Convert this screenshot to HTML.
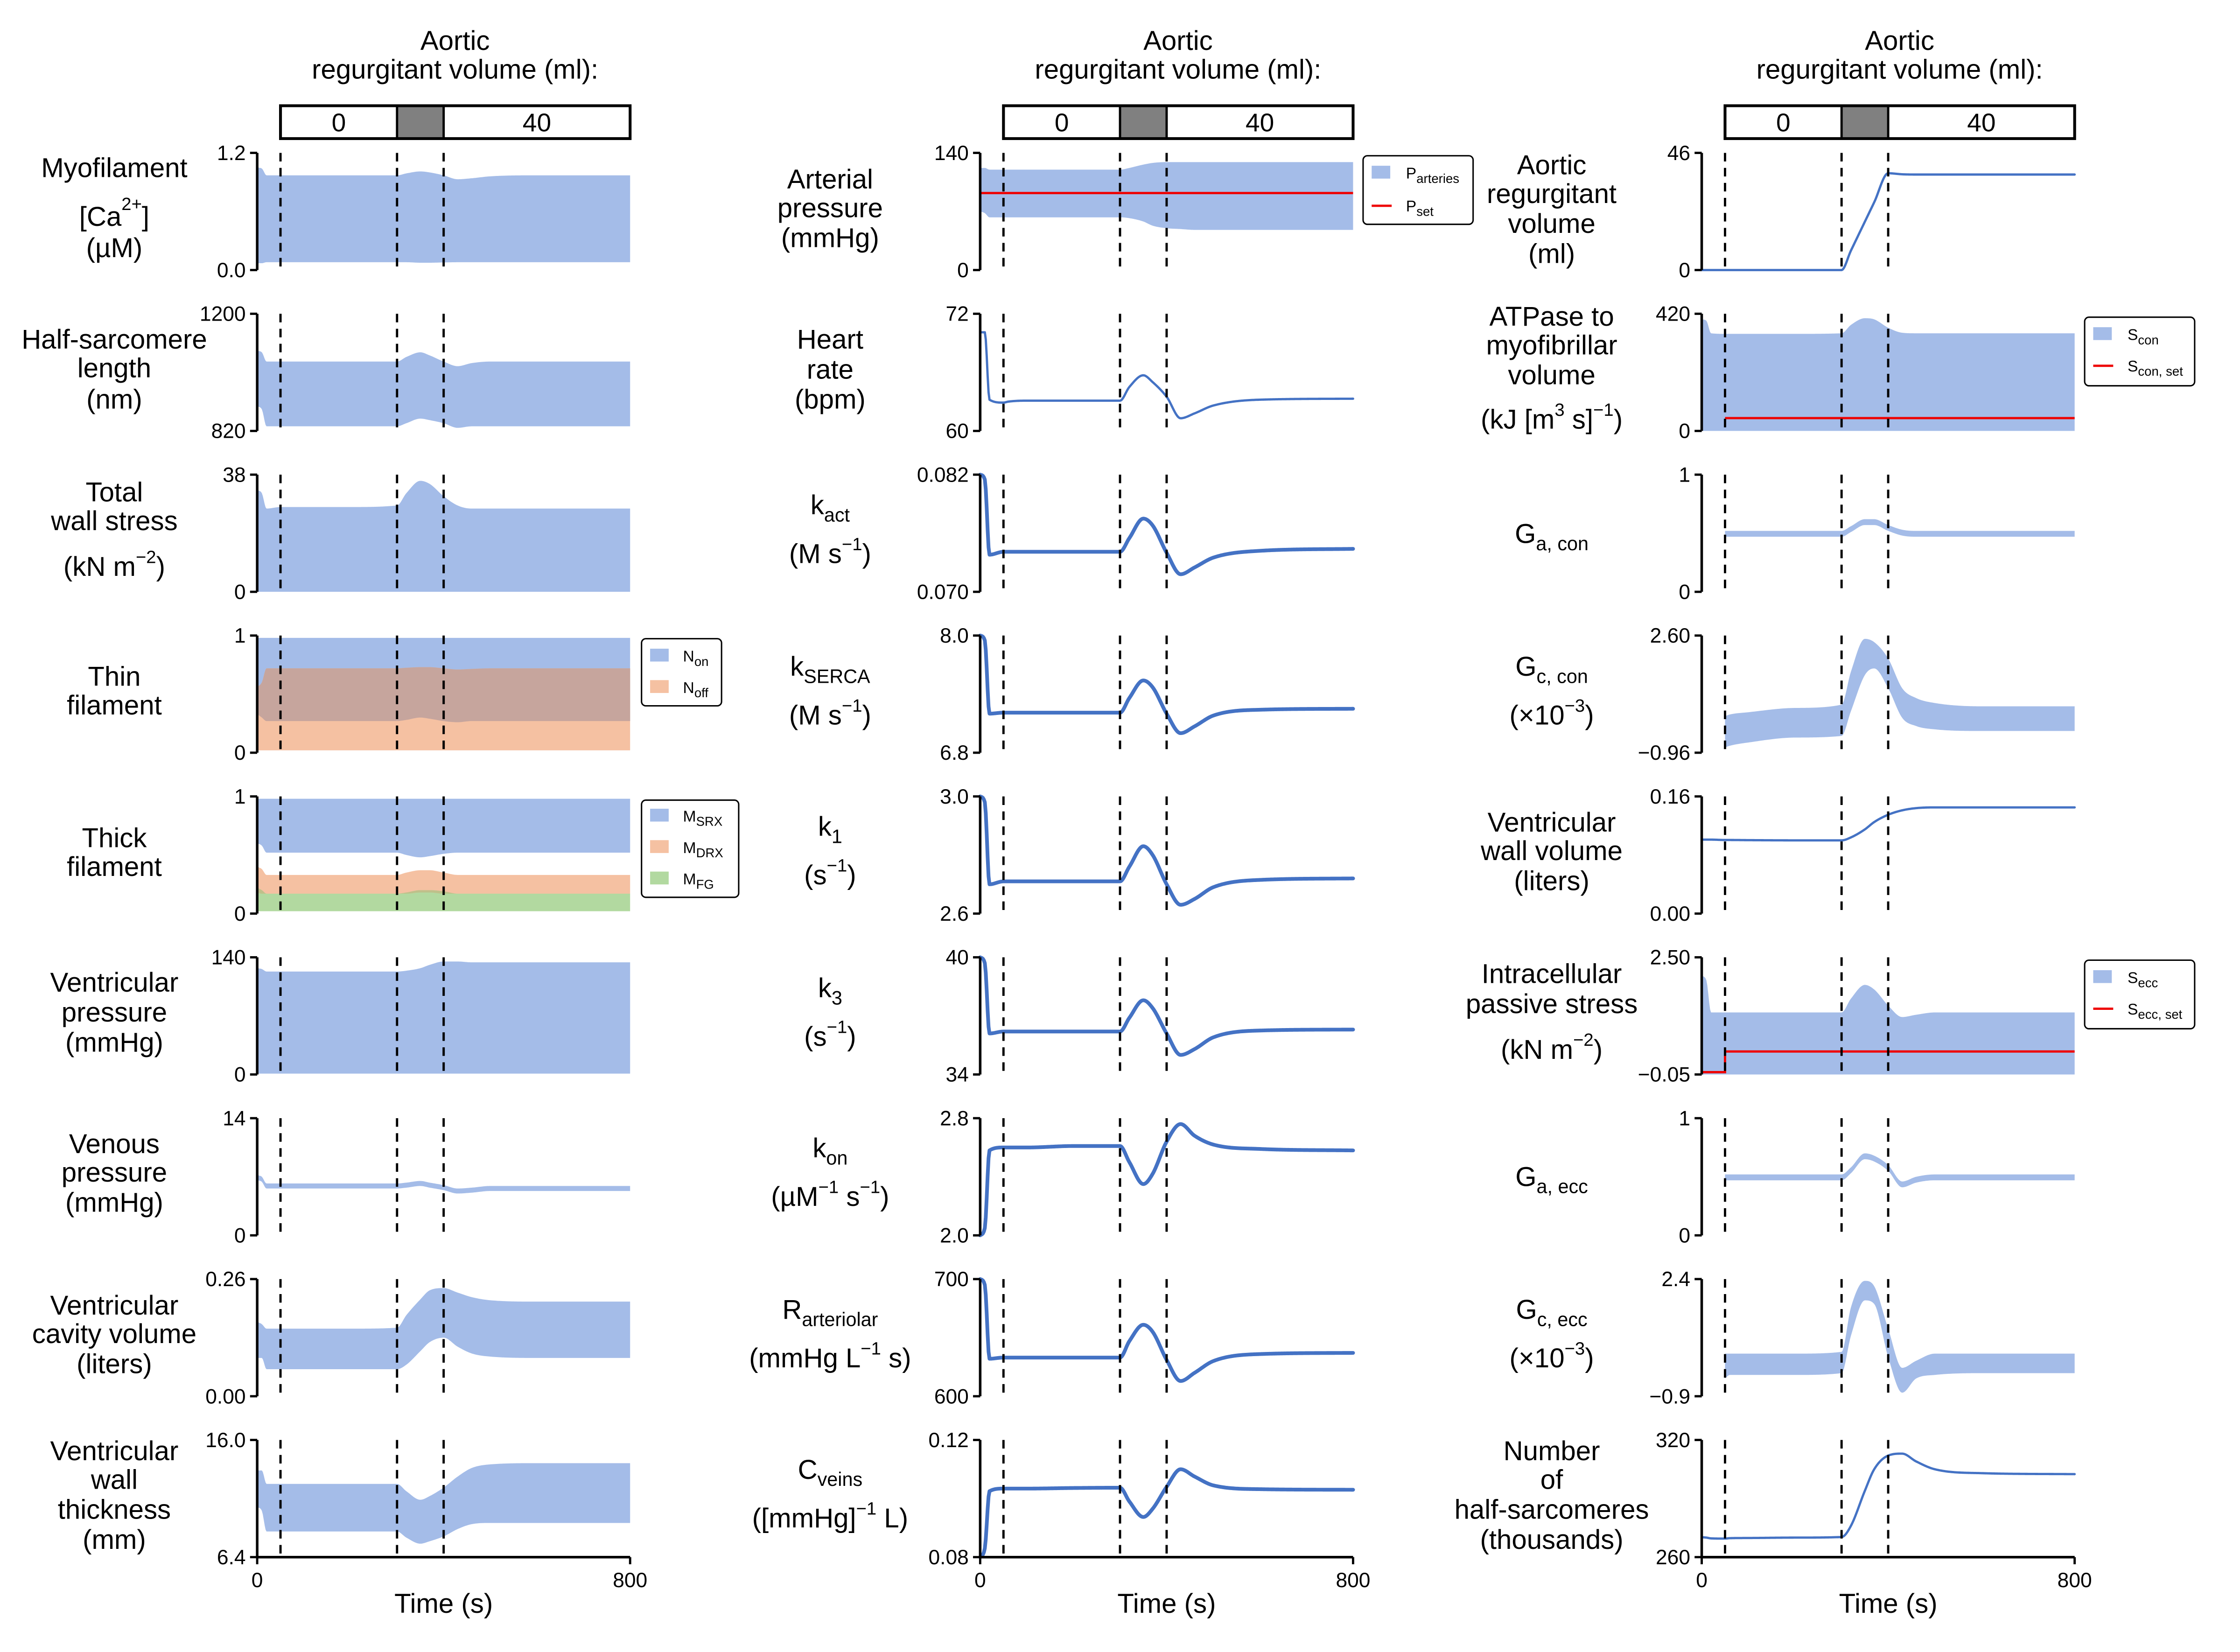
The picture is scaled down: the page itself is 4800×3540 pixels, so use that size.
<!DOCTYPE html>
<html><head><meta charset="utf-8"><style>
html,body{margin:0;padding:0;background:#fff}
svg{display:block}
text{font-family:"Liberation Sans",Arial,sans-serif;fill:#000}
.lab{font-size:19px;text-anchor:middle}
.tk{font-size:14.5px;text-anchor:end}
.lg{font-size:11px}
</style></head><body>
<svg id="fig" xmlns="http://www.w3.org/2000/svg" width="4800" height="3540" viewBox="0 0 1567.7 1156.2" preserveAspectRatio="xMinYMin meet">
<rect width="1567.7" height="1156.2" fill="#fff"/>
<g id="headers"></g>
<g id="plots"></g>
<g id="labels">
<text class="lab" x="80" y="124">Myofilament</text>
<text class="lab" x="80" y="158">[Ca<tspan dy="-11" font-size="12.5">2+</tspan><tspan dy="11">]</tspan></text>
<text class="lab" x="80" y="180">(µM)</text>
<text class="lab" x="80" y="244">Half-sarcomere</text>
<text class="lab" x="80" y="264">length</text>
<text class="lab" x="80" y="286">(nm)</text>
<text class="lab" x="80" y="351">Total</text>
<text class="lab" x="80" y="371">wall stress</text>
<text class="lab" x="80" y="403">(kN m<tspan dy="-9" font-size="12.5">−2</tspan><tspan dy="9">)</tspan></text>
<text class="lab" x="80" y="480">Thin</text>
<text class="lab" x="80" y="500">filament</text>
<text class="lab" x="80" y="593">Thick</text>
<text class="lab" x="80" y="613">filament</text>
<text class="lab" x="80" y="694">Ventricular</text>
<text class="lab" x="80" y="715">pressure</text>
<text class="lab" x="80" y="736">(mmHg)</text>
<text class="lab" x="80" y="807">Venous</text>
<text class="lab" x="80" y="827">pressure</text>
<text class="lab" x="80" y="848">(mmHg)</text>
<text class="lab" x="80" y="920">Ventricular</text>
<text class="lab" x="80" y="940">cavity volume</text>
<text class="lab" x="80" y="961">(liters)</text>
<text class="lab" x="80" y="1022">Ventricular</text>
<text class="lab" x="80" y="1042">wall</text>
<text class="lab" x="80" y="1063">thickness</text>
<text class="lab" x="80" y="1084">(mm)</text>
<text class="lab" x="581" y="132">Arterial</text>
<text class="lab" x="581" y="152">pressure</text>
<text class="lab" x="581" y="173">(mmHg)</text>
<text class="lab" x="581" y="244">Heart</text>
<text class="lab" x="581" y="265">rate</text>
<text class="lab" x="581" y="286">(bpm)</text>
<text class="lab" x="581" y="360">k<tspan dy="5" font-size="13.5">act</tspan></text>
<text class="lab" x="581" y="394">(M s<tspan dy="-9" font-size="12.5">−1</tspan><tspan dy="9">)</tspan></text>
<text class="lab" x="581" y="473">k<tspan dy="5" font-size="13.5">SERCA</tspan></text>
<text class="lab" x="581" y="507">(M s<tspan dy="-9" font-size="12.5">−1</tspan><tspan dy="9">)</tspan></text>
<text class="lab" x="581" y="585">k<tspan dy="5" font-size="13.5">1</tspan></text>
<text class="lab" x="581" y="619">(s<tspan dy="-9" font-size="12.5">−1</tspan><tspan dy="9">)</tspan></text>
<text class="lab" x="581" y="698">k<tspan dy="5" font-size="13.5">3</tspan></text>
<text class="lab" x="581" y="732">(s<tspan dy="-9" font-size="12.5">−1</tspan><tspan dy="9">)</tspan></text>
<text class="lab" x="581" y="810">k<tspan dy="5" font-size="13.5">on</tspan></text>
<text class="lab" x="581" y="844">(µM<tspan dy="-9" font-size="12.5">−1</tspan><tspan dy="9"> s</tspan><tspan dy="-9" font-size="12.5">−1</tspan><tspan dy="9">)</tspan></text>
<text class="lab" x="581" y="923">R<tspan dy="5" font-size="13.5">arteriolar</tspan></text>
<text class="lab" x="581" y="957">(mmHg L<tspan dy="-9" font-size="12.5">−1</tspan><tspan dy="9"> s)</tspan></text>
<text class="lab" x="581" y="1035">C<tspan dy="5" font-size="13.5">veins</tspan></text>
<text class="lab" x="581" y="1069">([mmHg]<tspan dy="-9" font-size="12.5">−1</tspan><tspan dy="9"> L)</tspan></text>
<text class="lab" x="1086" y="122">Aortic</text>
<text class="lab" x="1086" y="142">regurgitant</text>
<text class="lab" x="1086" y="163">volume</text>
<text class="lab" x="1086" y="184">(ml)</text>
<text class="lab" x="1086" y="228">ATPase to</text>
<text class="lab" x="1086" y="248">myofibrillar</text>
<text class="lab" x="1086" y="269">volume</text>
<text class="lab" x="1086" y="300">(kJ [m<tspan dy="-9" font-size="12.5">3</tspan><tspan dy="9"> s]</tspan><tspan dy="-9" font-size="12.5">−1</tspan><tspan dy="9">)</tspan></text>
<text class="lab" x="1086" y="380">G<tspan dy="5" font-size="13.5">a, con</tspan></text>
<text class="lab" x="1086" y="473">G<tspan dy="5" font-size="13.5">c, con</tspan></text>
<text class="lab" x="1086" y="507">(×10<tspan dy="-9" font-size="12.5">−3</tspan><tspan dy="9">)</tspan></text>
<text class="lab" x="1086" y="582">Ventricular</text>
<text class="lab" x="1086" y="602">wall volume</text>
<text class="lab" x="1086" y="623">(liters)</text>
<text class="lab" x="1086" y="688">Intracellular</text>
<text class="lab" x="1086" y="709">passive stress</text>
<text class="lab" x="1086" y="741">(kN m<tspan dy="-9" font-size="12.5">−2</tspan><tspan dy="9">)</tspan></text>
<text class="lab" x="1086" y="830">G<tspan dy="5" font-size="13.5">a, ecc</tspan></text>
<text class="lab" x="1086" y="923">G<tspan dy="5" font-size="13.5">c, ecc</tspan></text>
<text class="lab" x="1086" y="957">(×10<tspan dy="-9" font-size="12.5">−3</tspan><tspan dy="9">)</tspan></text>
<text class="lab" x="1086" y="1022">Number</text>
<text class="lab" x="1086" y="1042">of</text>
<text class="lab" x="1086" y="1063">half-sarcomeres</text>
<text class="lab" x="1086" y="1084">(thousands)</text>
</g>
<g id="legends">
<g>
<rect x="954" y="109" width="77" height="48" rx="3" fill="#fff" stroke="#000" stroke-width="1"/>
<rect x="960" y="116" width="13" height="9" fill="#a4bce8"/><text class="lg" x="984" y="125">P<tspan dy="3" font-size="9">arteries</tspan></text>
<line x1="960" y1="144" x2="974" y2="144" stroke="#e00" stroke-width="1.6"/><text class="lg" x="984" y="148">P<tspan dy="3" font-size="9">set</tspan></text>
</g>
<g>
<rect x="449" y="447" width="56" height="47" rx="3" fill="#fff" stroke="#000"/>
<rect x="455" y="454" width="13" height="9" fill="#a4bce8"/><text class="lg" x="478" y="463">N<tspan dy="3" font-size="9">on</tspan></text>
<rect x="455" y="476" width="13" height="9" fill="#f5c1a2"/><text class="lg" x="478" y="485">N<tspan dy="3" font-size="9">off</tspan></text>
</g>
<g>
<rect x="449" y="560" width="68" height="68" rx="3" fill="#fff" stroke="#000"/>
<rect x="455" y="566" width="13" height="9" fill="#a4bce8"/><text class="lg" x="478" y="575">M<tspan dy="3" font-size="9">SRX</tspan></text>
<rect x="455" y="588" width="13" height="9" fill="#f5c1a2"/><text class="lg" x="478" y="597">M<tspan dy="3" font-size="9">DRX</tspan></text>
<rect x="455" y="610" width="13" height="9" fill="#b2d9a0"/><text class="lg" x="478" y="619">M<tspan dy="3" font-size="9">FG</tspan></text>
</g>
<g>
<rect x="1459" y="222" width="77" height="48" rx="3" fill="#fff" stroke="#000"/>
<rect x="1465" y="229" width="13" height="9" fill="#a4bce8"/><text class="lg" x="1489" y="238">S<tspan dy="3" font-size="9">con</tspan></text>
<line x1="1465" y1="256" x2="1479" y2="256" stroke="#e00" stroke-width="1.6"/><text class="lg" x="1489" y="260">S<tspan dy="3" font-size="9">con, set</tspan></text>
</g>
<g>
<rect x="1459" y="672" width="77" height="48" rx="3" fill="#fff" stroke="#000"/>
<rect x="1465" y="679" width="13" height="9" fill="#a4bce8"/><text class="lg" x="1489" y="688">S<tspan dy="3" font-size="9">ecc</tspan></text>
<line x1="1465" y1="706" x2="1479" y2="706" stroke="#e00" stroke-width="1.6"/><text class="lg" x="1489" y="710">S<tspan dy="3" font-size="9">ecc, set</tspan></text>
</g>
</g>
</svg>
<script>
// ---- data ----
const T = [0,10,20,50,60,100,200,300,320,350,370,400,430,460,500,600,800];
const dashTimes = [50,300,400];
const xTickLabels = ["0","800"];
const headerSegments = ["0","40"];
// column 1
const caHi = [1.05,1.04,0.97,0.97,0.97,0.97,0.97,0.97,0.99,1.01,1.00,0.97,0.93,0.94,0.96,0.97,0.97];
const caLo = [0.07,0.07,0.08,0.08,0.08,0.08,0.08,0.08,0.08,0.075,0.075,0.078,0.08,0.08,0.08,0.08,0.08];
const hsHi = [1080,1075,1045,1045,1045,1045,1045,1045,1060,1075,1065,1045,1030,1040,1045,1045,1045];
const hsLo = [900,890,835,835,835,835,835,835,845,860,855,845,830,835,835,835,835];
const wsHi = [33,32,27,27.5,27.5,27.5,27.5,28,32,36,35,31,28,27,27,27,27];
const wsLo = [0,0,0,0,0,0,0,0,0,0,0,0,0,0,0,0,0];
const nonHi = [0.98,0.98,0.98,0.98,0.98,0.98,0.98,0.98,0.98,0.98,0.98,0.98,0.98,0.98,0.98,0.98,0.98];
const nonLo = [0.33,0.3,0.27,0.27,0.27,0.27,0.27,0.27,0.28,0.3,0.29,0.27,0.26,0.27,0.27,0.27,0.27];
const noffHi = [0.56,0.6,0.72,0.72,0.72,0.72,0.72,0.72,0.725,0.73,0.73,0.72,0.71,0.715,0.72,0.72,0.72];
const noffLo = [0.02,0.02,0.02,0.02,0.02,0.02,0.02,0.02,0.02,0.02,0.02,0.02,0.02,0.02,0.02,0.02,0.02];
const msrxHi = [0.98,0.98,0.98,0.98,0.98,0.98,0.98,0.98,0.98,0.98,0.98,0.98,0.98,0.98,0.98,0.98,0.98];
const msrxLo = [0.6,0.58,0.52,0.52,0.52,0.52,0.52,0.52,0.5,0.48,0.49,0.51,0.52,0.52,0.52,0.52,0.52];
const mdrxHi = [0.4,0.38,0.33,0.33,0.33,0.33,0.33,0.33,0.35,0.37,0.37,0.35,0.33,0.33,0.33,0.33,0.33];
const mdrxLo = [0.18,0.17,0.17,0.17,0.17,0.17,0.17,0.17,0.17,0.18,0.18,0.17,0.17,0.17,0.17,0.17,0.17];
const mfgHi = [0.22,0.2,0.17,0.17,0.17,0.17,0.17,0.17,0.18,0.2,0.2,0.19,0.17,0.17,0.17,0.17,0.17];
const mfgLo = [0.02,0.02,0.02,0.02,0.02,0.02,0.02,0.02,0.02,0.02,0.02,0.02,0.02,0.02,0.02,0.02,0.02];
const vpHi = [127,126,123,123,123,123,123,123,124,127,131,135,135,134,134,134,134];
const vpLo = [1,1,1,1,1,1,1,1,1,1,1,1,1,1,1,1,1];
const venHi = [7.2,7.0,6.2,6.2,6.2,6.2,6.2,6.2,6.3,6.5,6.3,6.0,5.6,5.7,5.9,5.9,5.9];
const venLo = [6.6,6.4,5.6,5.6,5.6,5.6,5.6,5.6,5.7,5.9,5.7,5.4,5.0,5.1,5.3,5.3,5.3];
const cavHi = [0.165,0.16,0.15,0.15,0.15,0.15,0.15,0.152,0.18,0.215,0.235,0.24,0.23,0.22,0.213,0.21,0.21];
const cavLo = [0.085,0.085,0.06,0.06,0.06,0.06,0.06,0.06,0.07,0.1,0.12,0.13,0.11,0.095,0.088,0.085,0.085];
const wtHi = [13.5,13.5,12.4,12.4,12.4,12.4,12.4,12.4,11.8,11.1,11.4,12.1,13.0,13.7,14.0,14.1,14.1];
const wtLo = [10.5,10.2,8.5,8.5,8.5,8.5,8.5,8.5,8.0,7.5,7.7,8.1,8.7,9.1,9.2,9.2,9.2];
// column 2
const apHi = [122,122,120,120,120,120,120,120,122,126,128,129,129,129,129,129,129];
const apLo = [70,68,63,63,63,63,63,63,62,58,53,50,49,48,48,48,48];
const pSet = [92,92,92,92,92,92,92,92,92,92,92,92,92,92,92,92,92];
const hr = [70.1,70.1,63.2,62.9,63.0,63.1,63.1,63.1,64.5,65.7,65.0,63.5,61.3,61.8,62.6,63.2,63.3];
const kact = [0.082,0.0815,0.0738,0.0741,0.0741,0.0741,0.0741,0.0741,0.0755,0.0775,0.0768,0.074,0.0718,0.0725,0.0735,0.0742,0.0744];
const kserca = [8.0,7.95,7.2,7.21,7.21,7.21,7.21,7.21,7.36,7.54,7.47,7.2,7.0,7.07,7.18,7.24,7.25];
const k1 = [3.0,2.98,2.7,2.71,2.71,2.71,2.71,2.71,2.76,2.83,2.8,2.7,2.63,2.65,2.69,2.715,2.72];
const k3 = [40,39.7,36.1,36.2,36.2,36.2,36.2,36.2,36.9,37.8,37.4,36.1,35.0,35.3,35.9,36.25,36.3];
const kon = [2.0,2.05,2.58,2.6,2.6,2.6,2.61,2.61,2.5,2.35,2.42,2.64,2.76,2.68,2.62,2.59,2.58];
const rart = [700,695,632,633,633,633,633,633,647,661,655,631,613,620,630,636,637];
const cveins = [0.08,0.083,0.1025,0.1034,0.1034,0.1034,0.1036,0.1037,0.099,0.0937,0.0965,0.104,0.110,0.1075,0.1045,0.1032,0.103];
// column 3
const arv = [0,0,0,0,0,0,0,0,7.6,19,26.6,38,37.6,37.5,37.5,37.5,37.5];
const atpHi = [400,395,350,348,348,348,348,350,380,404,400,370,352,350,350,350,350];
const atpLo = [0,0,0,0,0,0,0,0,0,0,0,0,0,0,0,0,0];
const sConSet = [null,null,null,46,46,46,46,46,46,46,46,46,46,46,46,46,46];
const gaconHi = [null,null,null,0.52,0.52,0.52,0.52,0.52,0.56,0.62,0.62,0.57,0.53,0.52,0.52,0.52,0.52];
const gaconLo = [null,null,null,0.47,0.47,0.47,0.47,0.47,0.51,0.57,0.57,0.52,0.48,0.47,0.47,0.47,0.47];
const gcconHi = [null,null,null,0.15,0.2,0.27,0.4,0.5,1.5,2.5,2.4,1.9,1.0,0.7,0.55,0.45,0.45];
const gcconLo = [null,null,null,-0.8,-0.75,-0.65,-0.5,-0.45,0.3,1.4,1.6,1.0,0.1,-0.15,-0.25,-0.3,-0.3];
const wallVol = [0.101,0.101,0.101,0.1005,0.1005,0.1003,0.1,0.1,0.104,0.115,0.125,0.135,0.141,0.144,0.145,0.145,0.145];
const psHi = [2.1,2.0,1.3,1.3,1.3,1.3,1.3,1.3,1.6,1.9,1.8,1.45,1.2,1.25,1.3,1.3,1.3];
const psLo = [-0.05,-0.05,-0.05,-0.05,-0.05,-0.05,-0.05,-0.05,-0.05,-0.05,-0.05,-0.05,-0.05,-0.05,-0.05,-0.05,-0.05];
const sEccSet = [0.0,0.0,0.0,0.45,0.45,0.45,0.45,0.45,0.45,0.45,0.45,0.45,0.45,0.45,0.45,0.45,0.45];
const gaeccHi = [null,null,null,0.52,0.52,0.52,0.52,0.52,0.58,0.7,0.68,0.6,0.46,0.5,0.52,0.52,0.52];
const gaeccLo = [null,null,null,0.47,0.47,0.47,0.47,0.47,0.53,0.65,0.63,0.55,0.41,0.45,0.47,0.47,0.47];
const gceccHi = [null,null,null,0.3,0.3,0.3,0.3,0.35,1.6,2.35,2.2,1.0,-0.1,0.1,0.3,0.3,0.3];
const gceccLo = [null,null,null,-0.4,-0.3,-0.3,-0.3,-0.25,0.8,1.8,1.7,0.2,-0.8,-0.4,-0.3,-0.25,-0.25];
const nhs = [270.2,270,269.6,269.5,269.7,269.8,270,270.3,276,294,305,312,313,309,305,303,302.5];

// ---- layout ----
const NS = "http://www.w3.org/2000/svg";
const COLX = [180,686,1191], PW = 261, PH = 82, ROW0 = 107, ROWSTEP = 112.6;
const BLUE = "#a4bce8", LINE = "#4472c4";
function mk(tag, attrs, parent){ const e=document.createElementNS(NS,tag); for(const k in attrs) e.setAttribute(k,attrs[k]); parent.appendChild(e); return e; }
const plots = document.getElementById('plots');
const headers = document.getElementById('headers');

function monoSample(vals){
  const xs=[], ys=[];
  T.forEach((t,i)=>{ if(vals[i]!==null){ xs.push(t); ys.push(vals[i]); } });
  const n=xs.length, d=[], m=[];
  for(let i=0;i<n-1;i++) d.push((ys[i+1]-ys[i])/(xs[i+1]-xs[i]));
  for(let i=0;i<n;i++){
    if(i===0) m.push(d[0]); else if(i===n-1) m.push(d[n-2]);
    else m.push(d[i-1]*d[i]<=0?0:(d[i-1]+d[i])/2);
  }
  for(let i=0;i<n-1;i++){
    if(d[i]===0){ m[i]=0; m[i+1]=0; continue; }
    const a=m[i]/d[i], b=m[i+1]/d[i], s=a*a+b*b;
    if(s>9){ const tt=3/Math.sqrt(s); m[i]=tt*a*d[i]; m[i+1]=tt*b*d[i]; }
  }
  const out=[];
  for(let i=0;i<n-1;i++){
    const h=xs[i+1]-xs[i], steps=Math.max(2,Math.ceil(h/2));
    for(let k=0;k<steps;k++){
      const s=k/steps, h00=2*s*s*s-3*s*s+1, h10=s*s*s-2*s*s+s, h01=-2*s*s*s+3*s*s, h11=s*s*s-s*s;
      out.push([xs[i]+s*h, h00*ys[i]+h10*h*m[i]+h01*ys[i+1]+h11*h*m[i+1]]);
    }
  }
  out.push([xs[n-1],ys[n-1]]);
  return out;
}

function makeAxes(col,row,ymin,ymax,tickLabels,name){
  const x0=COLX[col], y0=ROW0+row*ROWSTEP;
  const ax={x:t=>x0+t/800*PW, y:v=>y0+PH-(v-ymin)/(ymax-ymin)*PH, x0, y0};
  const g=mk('g',{},plots);
  
  
  ax.g=g; ax.tickLabels=tickLabels; ax.ymin=ymin; ax.ymax=ymax; ax.row=row;
  return ax;
}
function finish(ax){
  const g=ax.g;
  dashTimes.forEach(t=>{
    const l=mk('line',{x1:ax.x(t),x2:ax.x(t),y1:ax.y0,y2:ax.y0+PH,stroke:'#000','stroke-width':1.6,'stroke-dasharray':'6,4.5'},g);
    
    
  });
  const sp=mk('line',{x1:ax.x0,x2:ax.x0,y1:ax.y0,y2:ax.y0+PH,stroke:'#000','stroke-width':1.8},g);
  
  
  [ax.ymax,ax.ymin].forEach((v,i)=>{
    mk('line',{x1:ax.x0-5,x2:ax.x0,y1:ax.y(v),y2:ax.y(v),stroke:'#000','stroke-width':1.6},g);
    const t=mk('text',{class:'tk',x:ax.x0-8,y:ax.y(v)+5},g);
    t.textContent=ax.tickLabels[i];
    
    
  });
  if(ax.row===8){
    const xa=mk('line',{x1:ax.x0,x2:ax.x0+PW,y1:ax.y0+PH,y2:ax.y0+PH,stroke:'#000','stroke-width':1.8},g);
    
    
    [0,800].forEach((t,i)=>{
      mk('line',{x1:ax.x(t),x2:ax.x(t),y1:ax.y0+PH,y2:ax.y0+PH+5,stroke:'#000','stroke-width':1.6},g);
      const tl=mk('text',{x:ax.x(t),y:ax.y0+PH+21,'font-size':14.5,'text-anchor':'middle'},g);
      tl.textContent=xTickLabels[i];
      
      
    });
    const xt=mk('text',{x:ax.x0+PW/2,y:ax.y0+PH+39,'font-size':19,'text-anchor':'middle'},g);
    xt.textContent='Time (s)';
    
    
  }
}
function clip(ax,v){ return Math.max(ax.ymin,Math.min(ax.ymax,v)); }
function band(ax,lo,hi,color,name){
  const H=monoSample(hi), L=monoSample(lo);
  let d='M'+H.map(p=>ax.x(p[0]).toFixed(2)+','+ax.y(clip(ax,p[1])).toFixed(2)).join('L');
  for(let i=L.length-1;i>=0;i--) d+='L'+ax.x(L[i][0]).toFixed(2)+','+ax.y(clip(ax,L[i][1])).toFixed(2);
  const p=mk('path',{d:d+'Z',fill:color,stroke:'none'},ax.g);
  
  
}
function line(ax,vals,color,w,name){
  const P=monoSample(vals);
  const p=mk('path',{d:'M'+P.map(q=>ax.x(q[0]).toFixed(2)+','+ax.y(clip(ax,q[1])).toFixed(2)).join('L'),fill:'none',stroke:color,'stroke-width':w,'stroke-linejoin':'round','stroke-linecap':'round'},ax.g);
  
  
}
function stepLine(ax,vals,color,w,name){
  let d='', prev=null;
  T.forEach((t,i)=>{
    if(vals[i]===null) return;
    const X=ax.x(t).toFixed(2), Y=ax.y(clip(ax,vals[i])).toFixed(2);
    if(prev===null) d+='M'+X+','+Y; else d+='L'+X+','+prev+'L'+X+','+Y;
    prev=Y;
  });
  const p=mk('path',{d,fill:'none',stroke:color,'stroke-width':w},ax.g);
  
  
}
function overlap(lo1,hi1,lo2,hi2){ return [T.map((_,i)=>Math.max(lo1[i],lo2[i])), T.map((_,i)=>Math.min(hi1[i],hi2[i]))]; }

[0,1,2].forEach(c=>{
  const cx=COLX[c]+PW/2+8;
  const g=mk('g',{},headers);
  
  
  const t1=mk('text',{x:cx,y:35,'font-size':19,'text-anchor':'middle'},g); t1.textContent='Aortic';
  const t2=mk('text',{x:cx,y:55,'font-size':19,'text-anchor':'middle'},g); t2.textContent='regurgitant volume (ml):';
  const x=t=>COLX[c]+t/800*PW;
  mk('rect',{x:x(300),y:74,width:x(400)-x(300),height:23,fill:'#808080'},g);
  mk('rect',{x:x(50),y:74,width:x(800)-x(50),height:23,fill:'none',stroke:'#000','stroke-width':2},g);
  mk('line',{x1:x(300),x2:x(300),y1:74,y2:97,stroke:'#000','stroke-width':1.6},g);
  mk('line',{x1:x(400),x2:x(400),y1:74,y2:97,stroke:'#000','stroke-width':1.6},g);
  const a=mk('text',{x:(x(50)+x(300))/2,y:92,'font-size':18,'text-anchor':'middle'},g); a.textContent=headerSegments[0];
  const b=mk('text',{x:(x(400)+x(800))/2,y:92,'font-size':18,'text-anchor':'middle'},g); b.textContent=headerSegments[1];
});

let a;
a=makeAxes(0,0,0,1.2,["1.2","0.0"],'panel-calcium'); band(a,caLo,caHi,BLUE,'calcium-band'); finish(a);
a=makeAxes(0,1,820,1200,["1200","820"],'panel-half-sarcomere'); band(a,hsLo,hsHi,BLUE,'half-sarcomere-band'); finish(a);
a=makeAxes(0,2,0,38,["38","0"],'panel-wall-stress'); band(a,wsLo,wsHi,BLUE,'wall-stress-band'); finish(a);
a=makeAxes(0,3,0,1,["1","0"],'panel-thin-filament');
band(a,nonLo,nonHi,BLUE,'n-on-band'); band(a,noffLo,noffHi,'#f5c1a2','n-off-band');
{const o=overlap(nonLo,nonHi,noffLo,noffHi); band(a,o[0],o[1],'#c6a59d','n-overlap-band');} finish(a);
a=makeAxes(0,4,0,1,["1","0"],'panel-thick-filament');
band(a,msrxLo,msrxHi,BLUE,'m-srx-band'); band(a,mdrxLo,mdrxHi,'#f5c1a2','m-drx-band'); band(a,mfgLo,mfgHi,'#b2d9a0','m-fg-band');
{const o=overlap(mdrxLo,mdrxHi,mfgLo,mfgHi); band(a,o[0],o[1],'#bfc08a','m-overlap-band');} finish(a);
a=makeAxes(0,5,0,140,["140","0"],'panel-ventricular-pressure'); band(a,vpLo,vpHi,BLUE,'ventricular-pressure-band'); finish(a);
a=makeAxes(0,6,0,14,["14","0"],'panel-venous-pressure'); band(a,venLo,venHi,BLUE,'venous-pressure-band'); finish(a);
a=makeAxes(0,7,0,0.26,["0.26","0.00"],'panel-cavity-volume'); band(a,cavLo,cavHi,BLUE,'cavity-volume-band'); finish(a);
a=makeAxes(0,8,6.4,16,["16.0","6.4"],'panel-wall-thickness'); band(a,wtLo,wtHi,BLUE,'wall-thickness-band'); finish(a);
a=makeAxes(1,0,0,140,["140","0"],'panel-arterial-pressure'); band(a,apLo,apHi,BLUE,'arterial-pressure-band');
stepLine(a,pSet,'#e00',1.6,'p-set-line'); finish(a);
a=makeAxes(1,1,60,72,["72","60"],'panel-heart-rate'); line(a,hr,LINE,1.6,'heart-rate-line'); finish(a);
a=makeAxes(1,2,0.070,0.082,["0.082","0.070"],'panel-k-act'); line(a,kact,LINE,2.6,'k-act-line'); finish(a);
a=makeAxes(1,3,6.8,8.0,["8.0","6.8"],'panel-k-serca'); line(a,kserca,LINE,2.6,'k-serca-line'); finish(a);
a=makeAxes(1,4,2.6,3.0,["3.0","2.6"],'panel-k1'); line(a,k1,LINE,2.6,'k1-line'); finish(a);
a=makeAxes(1,5,34,40,["40","34"],'panel-k3'); line(a,k3,LINE,2.6,'k3-line'); finish(a);
a=makeAxes(1,6,2.0,2.8,["2.8","2.0"],'panel-k-on'); line(a,kon,LINE,2.6,'k-on-line'); finish(a);
a=makeAxes(1,7,600,700,["700","600"],'panel-r-arteriolar'); line(a,rart,LINE,2.6,'r-arteriolar-line'); finish(a);
a=makeAxes(1,8,0.08,0.12,["0.12","0.08"],'panel-c-veins'); line(a,cveins,LINE,2.6,'c-veins-line'); finish(a);
a=makeAxes(2,0,0,46,["46","0"],'panel-regurgitant-volume'); line(a,arv,LINE,1.6,'regurgitant-volume-line'); finish(a);
a=makeAxes(2,1,0,420,["420","0"],'panel-atpase'); band(a,atpLo,atpHi,BLUE,'atpase-band'); stepLine(a,sConSet,'#e00',1.6,'s-con-set-line'); finish(a);
a=makeAxes(2,2,0,1,["1","0"],'panel-ga-con'); band(a,gaconLo,gaconHi,BLUE,'ga-con-band'); finish(a);
a=makeAxes(2,3,-0.96,2.60,["2.60","−0.96"],'panel-gc-con'); band(a,gcconLo,gcconHi,BLUE,'gc-con-band'); finish(a);
a=makeAxes(2,4,0,0.16,["0.16","0.00"],'panel-wall-volume'); line(a,wallVol,LINE,1.6,'wall-volume-line'); finish(a);
a=makeAxes(2,5,-0.05,2.5,["2.50","−0.05"],'panel-passive-stress'); band(a,psLo,psHi,BLUE,'passive-stress-band'); stepLine(a,sEccSet,'#e00',1.6,'s-ecc-set-line'); finish(a);
a=makeAxes(2,6,0,1,["1","0"],'panel-ga-ecc'); band(a,gaeccLo,gaeccHi,BLUE,'ga-ecc-band'); finish(a);
a=makeAxes(2,7,-0.9,2.4,["2.4","−0.9"],'panel-gc-ecc'); band(a,gceccLo,gceccHi,BLUE,'gc-ecc-band'); finish(a);
a=makeAxes(2,8,260,320,["320","260"],'panel-half-sarcomere-count'); line(a,nhs,LINE,1.6,'half-sarcomere-count-line'); finish(a);
</script>
</body></html>
